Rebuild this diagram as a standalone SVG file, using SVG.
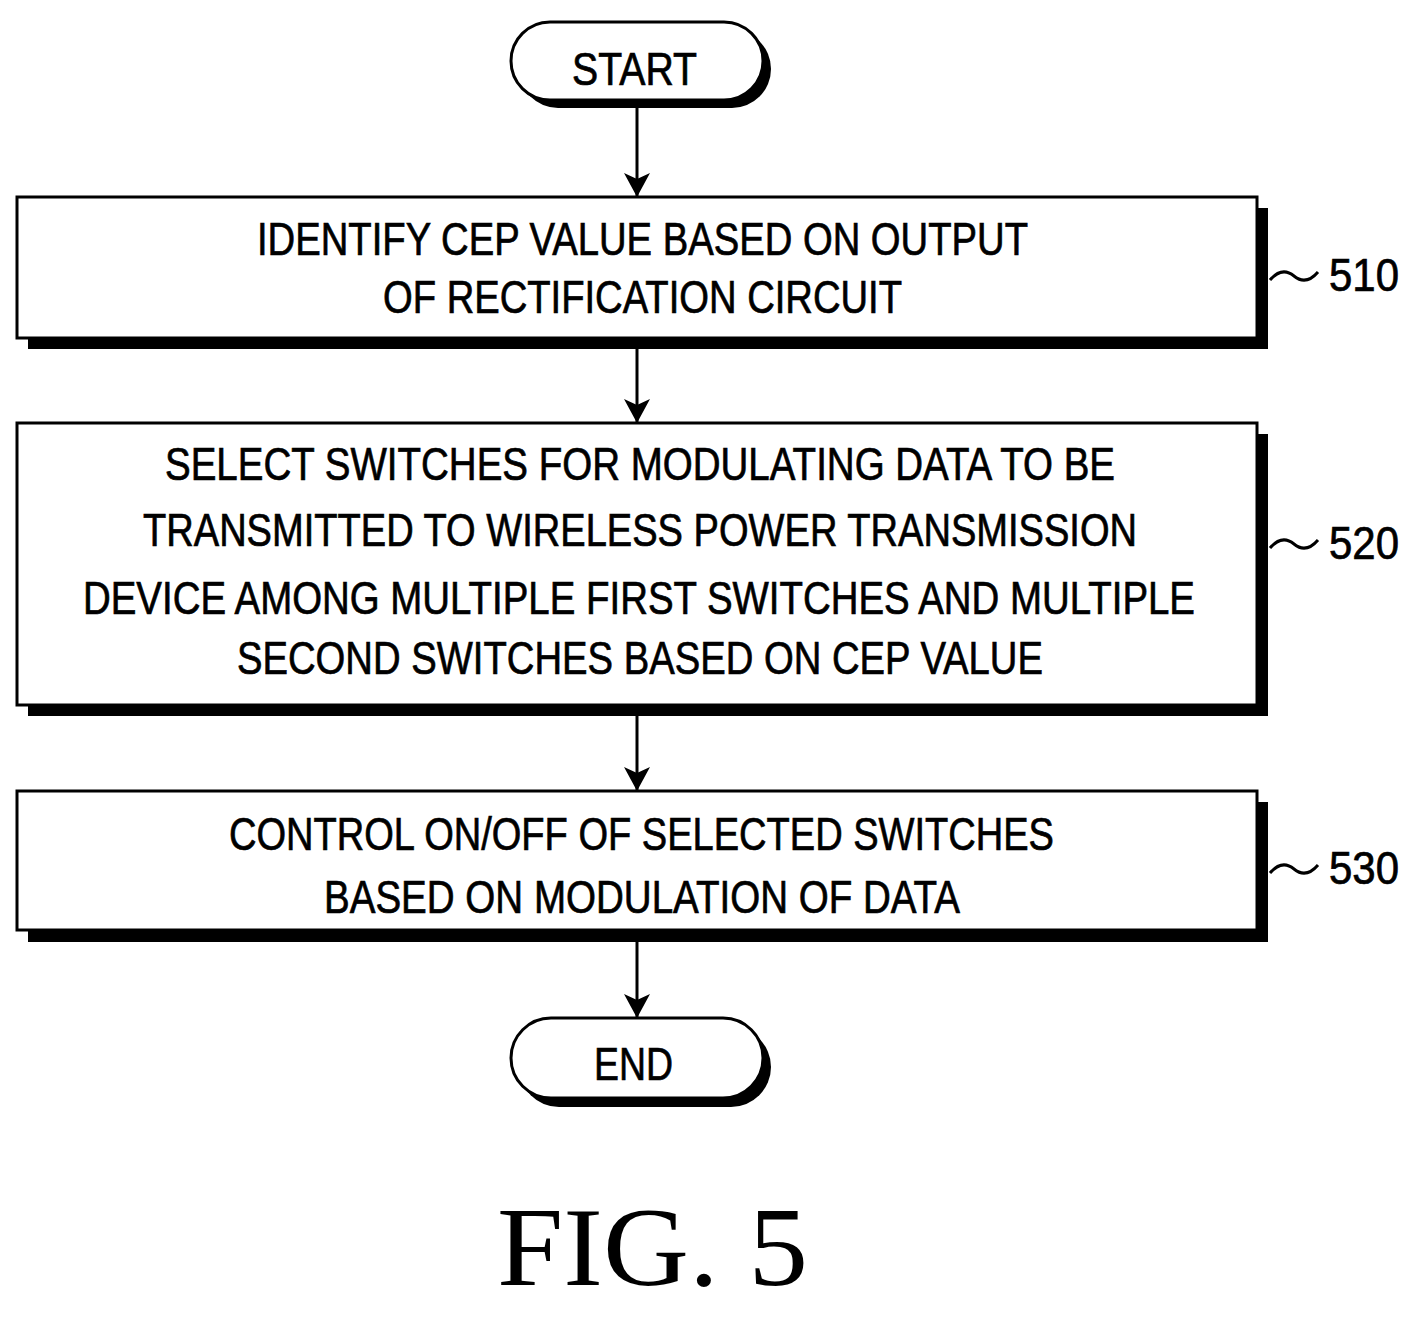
<svg xmlns="http://www.w3.org/2000/svg" width="1418" height="1328" viewBox="0 0 1418 1328">
<style>
.b{fill:#fff;stroke:#000;stroke-width:3}
.s{fill:#000}
.t{font-family:"Liberation Sans",Arial,sans-serif;font-size:46px;fill:#000;stroke:#000;stroke-width:0.7;text-anchor:start}
.l{fill:none;stroke:#000;stroke-width:3}
</style>
<defs>
<marker id="ah" viewBox="0 0 24 26" refX="24" refY="13" markerWidth="24" markerHeight="26" orient="auto" markerUnits="userSpaceOnUse"><path d="M0,0L24,13L0,26L6,13z" fill="#000"/></marker></defs>
<rect width="1418" height="1328" fill="#fff"/>
<g id="start"><rect x="519" y="30" width="252" height="78" rx="39" class="s"/><rect x="511" y="22" width="252" height="78" rx="39" class="b"/><text class="t" x="572" y="85" textLength="125" lengthAdjust="spacingAndGlyphs">START</text></g>
<g id="n510"><rect x="28" y="208" width="1240" height="141" class="s"/><rect x="17" y="197" width="1240" height="141" class="b"/>
<text class="t" x="257" y="255" textLength="771" lengthAdjust="spacingAndGlyphs">IDENTIFY CEP VALUE BASED ON OUTPUT</text>
<text class="t" x="383" y="313" textLength="519" lengthAdjust="spacingAndGlyphs">OF RECTIFICATION CIRCUIT</text>
<path class="l" d="M1270,280 q12,-14 24,-4 t24,-4" /><text class="t" x="1329" y="291" font-size="44" textLength="70" lengthAdjust="spacingAndGlyphs">510</text></g>
<g id="n520"><rect x="28" y="434" width="1240" height="282" class="s"/><rect x="17" y="423" width="1240" height="282" class="b"/>
<text class="t" x="165" y="480" textLength="950" lengthAdjust="spacingAndGlyphs">SELECT SWITCHES FOR MODULATING DATA TO BE</text>
<text class="t" x="143" y="546" textLength="994" lengthAdjust="spacingAndGlyphs">TRANSMITTED TO WIRELESS POWER TRANSMISSION</text>
<text class="t" x="83" y="614" textLength="1112" lengthAdjust="spacingAndGlyphs">DEVICE AMONG MULTIPLE FIRST SWITCHES AND MULTIPLE</text>
<text class="t" x="237" y="674" textLength="806" lengthAdjust="spacingAndGlyphs">SECOND SWITCHES BASED ON CEP VALUE</text>
<path class="l" d="M1270,548 q12,-14 24,-4 t24,-4" /><text class="t" x="1329" y="559" font-size="44" textLength="70" lengthAdjust="spacingAndGlyphs">520</text></g>
<g id="n530"><rect x="28" y="802" width="1240" height="140" class="s"/><rect x="17" y="791" width="1240" height="139" class="b"/>
<text class="t" x="229" y="850" textLength="825" lengthAdjust="spacingAndGlyphs">CONTROL ON/OFF OF SELECTED SWITCHES</text>
<text class="t" x="324" y="913" textLength="636" lengthAdjust="spacingAndGlyphs">BASED ON MODULATION OF DATA</text>
<path class="l" d="M1270,873 q12,-14 24,-4 t24,-4" /><text class="t" x="1329" y="884" font-size="44" textLength="70" lengthAdjust="spacingAndGlyphs">530</text></g>
<g id="end"><rect x="519" y="1027" width="252" height="80" rx="40" class="s"/><rect x="511" y="1018" width="252" height="80" rx="40" class="b"/><text class="t" x="594" y="1080" textLength="79" lengthAdjust="spacingAndGlyphs">END</text></g>
<g id="connectors" class="l">
<line x1="637" y1="100" x2="637" y2="197" marker-end="url(#ah)"/>
<line x1="637" y1="349" x2="637" y2="423" marker-end="url(#ah)"/>
<line x1="637" y1="716" x2="637" y2="791" marker-end="url(#ah)"/>
<line x1="637" y1="942" x2="637" y2="1018" marker-end="url(#ah)"/>
</g>
<text x="497" y="1285" font-family="Liberation Serif,serif" font-size="112" textLength="311" lengthAdjust="spacingAndGlyphs">FIG. 5</text>
</svg>
